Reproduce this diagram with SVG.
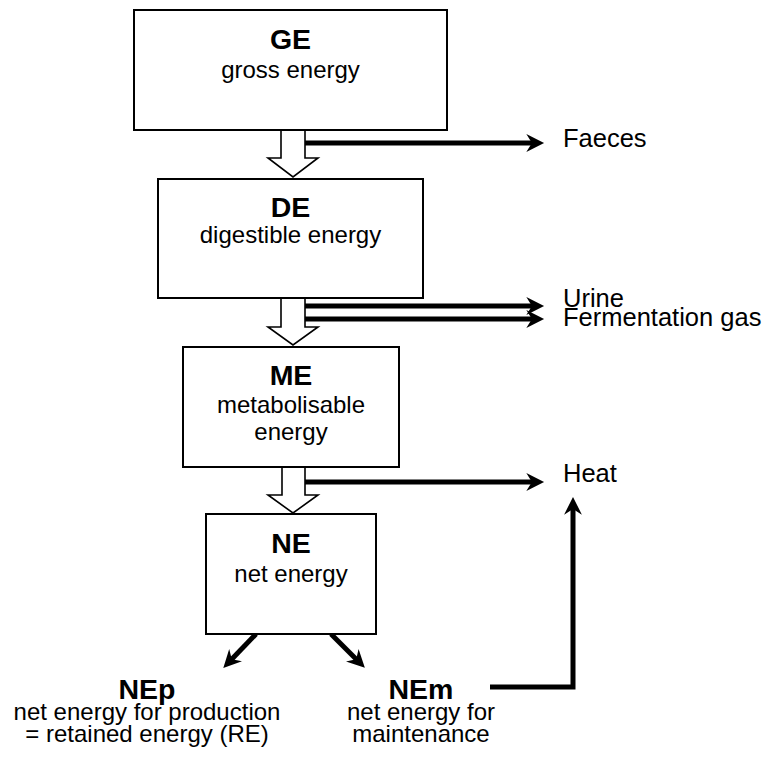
<svg xmlns="http://www.w3.org/2000/svg" width="772" height="760" viewBox="0 0 772 760">
<defs>
<style>
.box{fill:#fff;stroke:#000;stroke-width:2}
.hollow{fill:#fff;stroke:#000;stroke-width:1.6;stroke-linejoin:miter}
.flow{fill:none;stroke:#000;stroke-width:5}
.b{font-family:"Liberation Sans",Arial,sans-serif;font-weight:bold;font-size:28.5px;text-anchor:middle;fill:#000}
.t{font-family:"Liberation Sans",Arial,sans-serif;font-size:24px;text-anchor:middle;fill:#000}
.s{font-family:"Liberation Sans",Arial,sans-serif;font-size:25.5px;fill:#000}
</style>
<marker id="ah" markerUnits="userSpaceOnUse" markerWidth="20" markerHeight="20" viewBox="-16 -9 18 18" refX="-10" refY="0" orient="auto">
<path d="M0,0 L-16,-8 L-11,0 L-16,8 Z" fill="#000"/>
</marker>
</defs>
<rect width="772" height="760" fill="#fff"/>
<g id="connectors">
<path class="hollow" d="M281,130 V158 H268 L293,177 L318,158 H305 V130"/>
<path class="hollow" d="M281,298 V327 H268 L293,345 L318,327 H305 V298"/>
<path class="hollow" d="M282,467 V495 H268 L293,513 L318,495 H305 V467"/>
<line class="flow" x1="305" y1="143" x2="533" y2="143" marker-end="url(#ah)"/>
<line class="flow" x1="305" y1="306" x2="533" y2="306" marker-end="url(#ah)"/>
<line class="flow" x1="305" y1="319" x2="533" y2="319" marker-end="url(#ah)"/>
<line class="flow" x1="305" y1="482" x2="533" y2="482" marker-end="url(#ah)"/>
<path class="flow" d="M490,687 H573 V508" marker-end="url(#ah)"/>
<line class="flow" x1="256" y1="634" x2="231" y2="660" marker-end="url(#ah)"/>
<line class="flow" x1="331" y1="634" x2="357" y2="660" marker-end="url(#ah)"/>
</g>
<g id="GE">
<rect class="box" x="134" y="10" width="313" height="120"/>
<text class="b" x="290.5" y="49">GE</text>
<text class="t" x="290.5" y="78">gross energy</text>
</g>
<g id="DE">
<rect class="box" x="158" y="179" width="265" height="119"/>
<text class="b" x="290.5" y="217">DE</text>
<text class="t" x="290.5" y="243">digestible energy</text>
</g>
<g id="ME">
<rect class="box" x="183" y="347" width="216" height="120"/>
<text class="b" x="291" y="385">ME</text>
<text class="t" x="291" y="413">metabolisable</text>
<text class="t" x="291" y="440">energy</text>
</g>
<g id="NE">
<rect class="box" x="206" y="514" width="170" height="120"/>
<text class="b" x="291" y="553">NE</text>
<text class="t" x="291" y="582">net energy</text>
</g>
<g id="NEp">
<text class="b" x="147" y="699">NEp</text>
<text class="t" x="147" y="720">net energy for production</text>
<text class="t" x="147" y="742">= retained energy (RE)</text>
</g>
<g id="NEm">
<text class="b" x="421" y="699">NEm</text>
<text class="t" x="421" y="720">net energy for</text>
<text class="t" x="421" y="742">maintenance</text>
</g>
<g id="Faeces"><text class="s" x="563" y="147">Faeces</text></g>
<g id="Urine"><text class="s" x="563" y="307">Urine</text></g>
<g id="Fermentation"><text class="s" x="563" y="326">Fermentation gas</text></g>
<g id="Heat"><text class="s" x="563" y="482">Heat</text></g>
</svg>
